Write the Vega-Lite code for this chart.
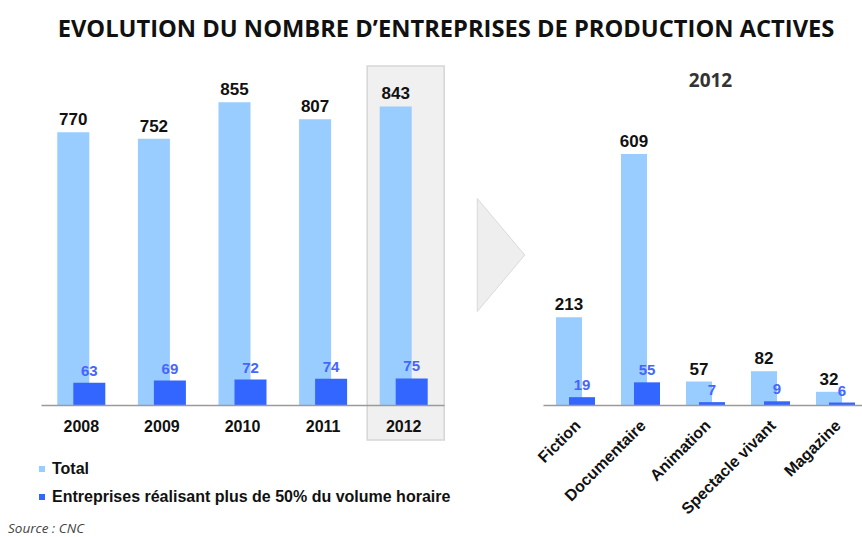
{
  "$schema": "https://vega.github.io/schema/vega-lite/v6.json",
  "padding": {"left": 8, "top": 18, "right": 0, "bottom": 0},
  "background": "white",
  "title": {
    "text": "EVOLUTION DU NOMBRE D’ENTREPRISES DE PRODUCTION ACTIVES",
    "font": "Open Sans",
    "fontSize": 23.7,
    "fontWeight": "bold",
    "color": "#111111",
    "anchor": "middle",
    "dx": 8,
    "offset": 23
  },
  "datasets": {
    "annees": [
      {"categorie": "2008", "serie": "Total", "valeur": 770},
      {"categorie": "2009", "serie": "Total", "valeur": 752},
      {"categorie": "2010", "serie": "Total", "valeur": 855},
      {"categorie": "2011", "serie": "Total", "valeur": 807},
      {"categorie": "2012", "serie": "Total", "valeur": 843},
      {"categorie": "2008", "serie": "Entreprises réalisant plus de 50% du volume horaire", "valeur": 63},
      {"categorie": "2009", "serie": "Entreprises réalisant plus de 50% du volume horaire", "valeur": 69},
      {"categorie": "2010", "serie": "Entreprises réalisant plus de 50% du volume horaire", "valeur": 72},
      {"categorie": "2011", "serie": "Entreprises réalisant plus de 50% du volume horaire", "valeur": 74},
      {"categorie": "2012", "serie": "Entreprises réalisant plus de 50% du volume horaire", "valeur": 75}
    ],
    "genres": [
      {"categorie": "Fiction", "serie": "Total", "valeur": 213},
      {"categorie": "Documentaire", "serie": "Total", "valeur": 609},
      {"categorie": "Animation", "serie": "Total", "valeur": 57},
      {"categorie": "Spectacle vivant", "serie": "Total", "valeur": 82},
      {"categorie": "Magazine", "serie": "Total", "valeur": 32},
      {"categorie": "Fiction", "serie": "Entreprises réalisant plus de 50% du volume horaire", "valeur": 19},
      {"categorie": "Documentaire", "serie": "Entreprises réalisant plus de 50% du volume horaire", "valeur": 55},
      {"categorie": "Animation", "serie": "Entreprises réalisant plus de 50% du volume horaire", "valeur": 7},
      {"categorie": "Spectacle vivant", "serie": "Entreprises réalisant plus de 50% du volume horaire", "valeur": 9},
      {"categorie": "Magazine", "serie": "Entreprises réalisant plus de 50% du volume horaire", "valeur": 6}
    ],
    "surlignage": [{"categorie": "2012", "haut": 957, "bas": -99}],
    "fleche": [{"forme": "flèche"}]
  },
  "spacing": 20,
  "bounds": "flush",
  "hconcat": [
    {
      "width": 403,
      "height": 340,
      "title": {
        "text": "Source : CNC",
        "orient": "bottom",
        "anchor": "start",
        "frame": "group",
        "font": "Open Sans",
        "fontSize": 13.5,
        "fontStyle": "italic",
        "fontWeight": "normal",
        "color": "#444444",
        "dx": -33,
        "offset": 81
      },
      "layer": [
        {
          "data": {"name": "surlignage"},
          "mark": {"type": "bar", "width": 77, "xOffset": 2, "fill": "#f0f0f0", "stroke": "#d6d6d6", "strokeWidth": 1.5},
          "encoding": {
            "x": {"field": "categorie", "type": "nominal"},
            "y": {"field": "haut", "type": "quantitative"},
            "y2": {"field": "bas"}
          }
        },
        {
          "data": {"name": "annees"},
          "transform": [{"filter": "datum.serie === 'Total'"}],
          "layer": [
            {
              "mark": {"type": "bar", "width": 32, "xOffset": -8},
              "encoding": {
                "color": {"field": "serie", "type": "nominal", "scale": {"domain": ["Total", "Entreprises réalisant plus de 50% du volume horaire"], "range": ["#99ccff", "#3366ff"]}}
              }
            },
            {
              "mark": {"type": "text", "xOffset": -8, "dy": -7, "baseline": "alphabetic", "font": "Liberation Sans", "fontSize": 17, "fontWeight": "bold", "color": "#111111"},
              "encoding": {"text": {"field": "valeur", "type": "quantitative"}}
            }
          ],
          "encoding": {
            "x": {"field": "categorie", "type": "nominal"},
            "y": {"field": "valeur", "type": "quantitative"}
          }
        },
        {
          "data": {"name": "annees"},
          "transform": [{"filter": "datum.serie !== 'Total'"}],
          "layer": [
            {
              "mark": {"type": "bar", "width": 32, "xOffset": 8},
              "encoding": {
                "color": {"field": "serie", "type": "nominal", "scale": {"domain": ["Total", "Entreprises réalisant plus de 50% du volume horaire"], "range": ["#99ccff", "#3366ff"]}}
              }
            },
            {
              "mark": {"type": "text", "xOffset": 8, "dy": -7, "baseline": "alphabetic", "font": "Liberation Sans", "fontSize": 15, "fontWeight": "bold", "color": "#4466ff"},
              "encoding": {"text": {"field": "valeur", "type": "quantitative"}}
            }
          ],
          "encoding": {
            "x": {"field": "categorie", "type": "nominal"},
            "y": {"field": "valeur", "type": "quantitative"}
          }
        }
      ],
      "encoding": {
        "x": {
          "field": "categorie",
          "type": "nominal",
          "sort": ["2008", "2009", "2010", "2011", "2012"],
          "scale": {"paddingInner": 0, "paddingOuter": 0},
          "axis": {"title": null, "labelAngle": 0, "ticks": false, "domainColor": "#9a9a9a", "domainWidth": 1.5, "labelFont": "Liberation Sans", "labelFontSize": 16, "labelFontWeight": "bold", "labelColor": "#111111", "labelPadding": 13, "zindex": 1}
        },
        "y": {
          "type": "quantitative",
          "scale": {"domain": [0, 960], "nice": false, "zero": true},
          "axis": null
        }
      }
    },
    {
      "width": 59,
      "height": 340,
      "data": {"name": "fleche"},
      "mark": {"type": "point", "shape": "M-0.42,-1L0.42,0L-0.42,1Z", "size": 12769, "filled": true, "fill": "#eeeeee", "stroke": "#d9d9d9", "strokeWidth": 1, "opacity": 1, "xOffset": 7.5, "yOffset": 20},
      "encoding": {}
    },
    {
      "width": 325,
      "height": 340,
      "title": {
        "text": "2012",
        "font": "Open Sans",
        "fontSize": 19,
        "fontWeight": "bold",
        "color": "#333333",
        "anchor": "middle",
        "frame": "group",
        "dx": 5,
        "offset": -26
      },
      "data": {"name": "genres"},
      "layer": [
        {
          "transform": [{"filter": "datum.serie === 'Total'"}],
          "layer": [
            {
              "mark": {"type": "bar", "width": 26, "xOffset": -6.5},
              "encoding": {"color": {"field": "serie", "type": "nominal", "scale": {"domain": ["Total", "Entreprises réalisant plus de 50% du volume horaire"], "range": ["#99ccff", "#3366ff"]}}}
            },
            {
              "mark": {"type": "text", "xOffset": -6.5, "dy": -7, "baseline": "alphabetic", "font": "Liberation Sans", "fontSize": 17, "fontWeight": "bold", "color": "#111111"},
              "encoding": {"text": {"field": "valeur", "type": "quantitative"}}
            }
          ]
        },
        {
          "transform": [{"filter": "datum.serie !== 'Total'"}],
          "layer": [
            {
              "mark": {"type": "bar", "width": 26, "xOffset": 6.5},
              "encoding": {"color": {"field": "serie", "type": "nominal", "scale": {"domain": ["Total", "Entreprises réalisant plus de 50% du volume horaire"], "range": ["#99ccff", "#3366ff"]}}}
            },
            {
              "mark": {"type": "text", "xOffset": 6.5, "dy": -7, "baseline": "alphabetic", "font": "Liberation Sans", "fontSize": 15, "fontWeight": "bold", "color": "#4466ff"},
              "encoding": {"text": {"field": "valeur", "type": "quantitative"}}
            }
          ]
        }
      ],
      "encoding": {
        "x": {
          "field": "categorie",
          "type": "nominal",
          "sort": ["Fiction", "Documentaire", "Animation", "Spectacle vivant", "Magazine"],
          "scale": {"paddingInner": 0, "paddingOuter": 0},
          "axis": {"title": null, "labelAngle": -45, "ticks": false, "domainColor": "#9a9a9a", "domainWidth": 1.5, "labelFont": "Liberation Sans", "labelFontSize": 16, "labelFontWeight": "bold", "labelColor": "#111111", "labelPadding": 12, "labelOffset": -3, "zindex": 1}
        },
        "y": {
          "field": "valeur",
          "type": "quantitative",
          "scale": {"domain": [0, 825], "nice": false},
          "axis": null
        }
      }
    }
  ],
  "resolve": {"scale": {"color": "shared", "y": "independent", "x": "independent"}},
  "config": {
    "view": {"stroke": null},
    "legend": {
      "orient": "none",
      "legendX": -7,
      "legendY": 396,
      "title": null,
      "symbolType": "square",
      "symbolSize": 36,
      "symbolStrokeWidth": 0,
      "labelFont": "Liberation Sans",
      "labelFontSize": 16,
      "labelFontWeight": "bold",
      "labelColor": "#111111",
      "labelLimit": 600,
      "rowPadding": 12,
      "labelOffset": 2
    }
  }
}
